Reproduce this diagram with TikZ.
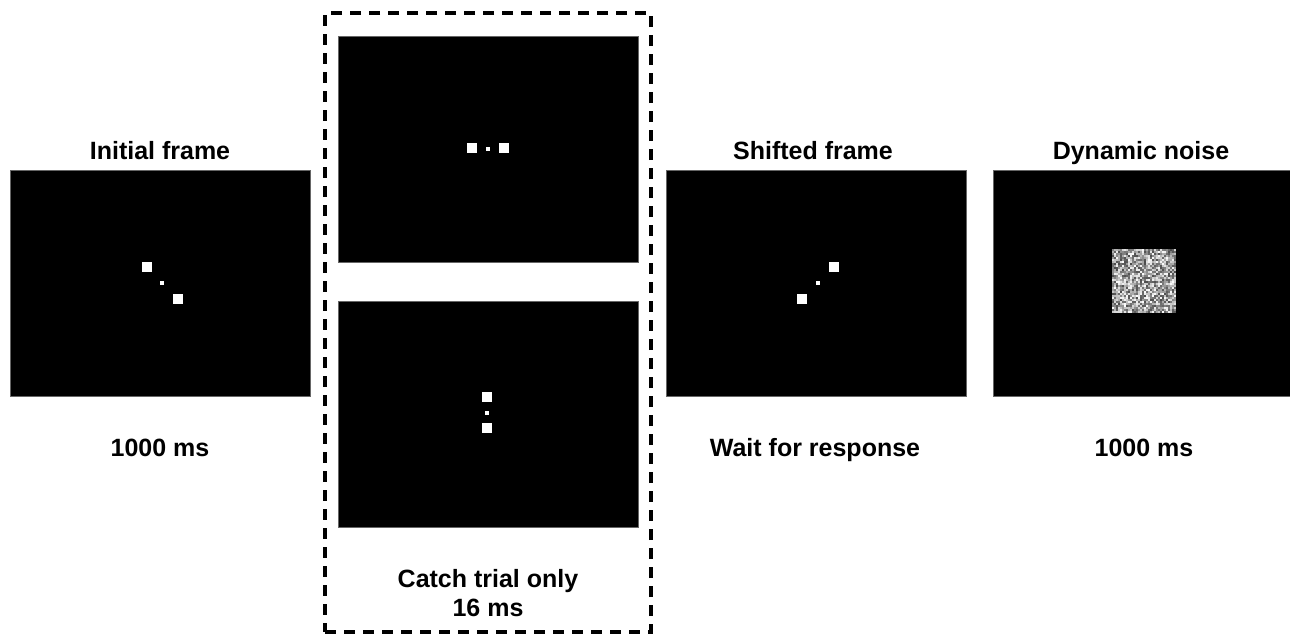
\documentclass[tikz,border=0pt]{standalone}
\usepackage{fontspec}
\setmainfont{Liberation Sans}
\begin{document}
\begin{tikzpicture}[x=1pt,y=-1pt,
  screen/.style={fill=black,draw=black!60,line width=0.6pt,minimum width=300pt,minimum height=226pt,inner sep=0pt},
  lbl/.style={anchor=base,inner sep=0pt,font=\bfseries\fontsize{25}{29}\selectfont},
  sq/.style={fill=white,draw=none,minimum size=10pt,inner sep=0pt},
  fix/.style={fill=white,draw=none,minimum size=4pt,inner sep=0pt},
  catchbox/.style={draw=black,line width=3.4pt,dash pattern=on 11pt off 8pt}]
\useasboundingbox (0,0) rectangle (1290,633);
% dashed group box
\node[catchbox,minimum width=326pt,minimum height=619pt,inner sep=0pt] (group) at (488,322.5) {};
% screens
\node[screen] (init) at (160,283) {};
\node[screen] (catchA) at (488,149) {};
\node[screen] (catchB) at (488,414) {};
\node[screen] (shift) at (816,283) {};
\node[screen,minimum width=310pt] (noise) at (1148,283) {};
% initial frame stimuli
\node[sq] (i1) at (146.7,267) {};
\node[fix] (i0) at (162.3,283) {};
\node[sq] (i2) at (178.3,299) {};
% catch top
\node[sq] (a1) at (472,148) {};
\node[fix] (a0) at (488,149) {};
\node[sq] (a2) at (504,148) {};
% catch bottom
\node[sq] (b1) at (487.3,396.7) {};
\node[fix] (b0) at (486.7,412.7) {};
\node[sq] (b2) at (487.3,428.3) {};
% shifted frame stimuli
\node[sq] (s1) at (833.6,267) {};
\node[fix] (s0) at (817.9,283) {};
\node[sq] (s2) at (801.7,299) {};
% noise patch
\pgfmathsetseed{4242}
\foreach \i in {0,...,31}{
  \foreach \j in {0,...,31}{
    \pgfmathtruncatemacro{\g}{30+70*rnd}
    \fill[white!\g!black] (1112+2*\i,249+2*\j) rectangle ++(2,2);
  }
}
% labels
\node[lbl] (tInit) at (160,159) {Initial frame};
\node[lbl] (dInit) at (160,456.5) {1000 ms};
\node[lbl] (tCatch) at (488,587) {Catch trial only};
\node[lbl] (dCatch) at (488,616.5) {16 ms};
\node[lbl] (tShift) at (813,159) {Shifted frame};
\node[lbl] (dShift) at (815,456.5) {Wait for response};
\node[lbl] (tNoise) at (1141,159) {Dynamic noise};
\node[lbl] (dNoise) at (1144,456.5) {1000 ms};
\end{tikzpicture}
\end{document}
